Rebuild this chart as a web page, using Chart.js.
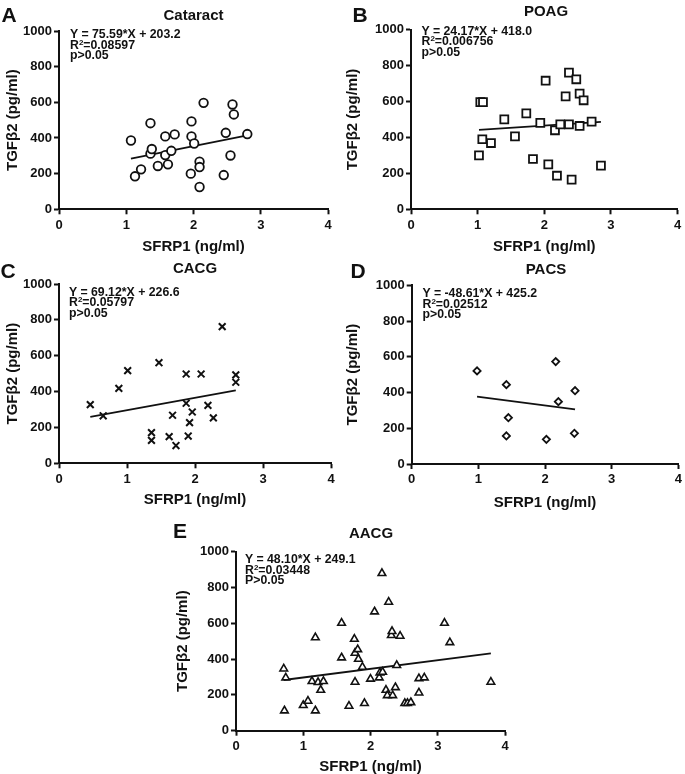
<!DOCTYPE html>
<html><head><meta charset="utf-8">
<script src="https://cdn.jsdelivr.net/npm/chart.js@4/dist/chart.umd.min.js"></script>
<style>
html,body{margin:0;padding:0;background:#fff;}
#wrap{position:relative;width:685px;height:774px;overflow:hidden;font-family:"Liberation Sans",Arial,sans-serif;color:#111;}
canvas{position:absolute;}
.lbl{position:absolute;transform:translate(-50%,-50%);font-weight:bold;line-height:1;white-space:nowrap;}
.letter{font-size:21px;}
.title{font-size:15px;}
.ann{position:absolute;font-weight:bold;font-size:12.3px;line-height:10.5px;white-space:nowrap;}
.ann .sp{font-size:8px;vertical-align:4px;line-height:0;}
</style></head>
<body><div id="wrap">
<canvas id="cA"></canvas><canvas id="cB"></canvas><canvas id="cC"></canvas><canvas id="cD"></canvas><canvas id="cE"></canvas>
</div>
<script>
// ---------- data ----------
const xTicks = [0, 1, 2, 3, 4];
const yTicks = [0, 200, 400, 600, 800, 1000];
const xTitle = "SFRP1 (ng/ml)";
const yTitle = "TGFβ2 (pg/ml)";

const cataractX = [1.07,1.13,1.22,1.36,1.36,1.38,1.47,1.58,1.58,1.62,1.67,1.72,1.97,1.97,2.01,1.96,2.09,2.09,2.09,2.15,2.48,2.45,2.55,2.58,2.60,2.80];
const cataractY = [386,185,224,483,312,338,243,409,304,252,328,420,493,409,369,200,267,237,125,597,429,192,302,588,532,422];

const poagX = [1.02,1.04,1.08,1.07,1.20,1.40,1.56,1.73,1.83,1.94,2.02,2.06,2.16,2.19,2.24,2.32,2.37,2.37,2.41,2.48,2.53,2.53,2.59,2.71,2.85];
const poagY = [300,597,597,390,369,501,406,534,280,481,716,250,440,187,473,629,761,473,165,724,464,644,607,488,243];

const cacgX = [0.46,0.65,0.88,1.01,1.36,1.36,1.47,1.62,1.67,1.72,1.87,1.87,1.90,1.92,1.96,2.09,2.19,2.27,2.40,2.60,2.60];
const cacgY = [327,265,418,517,171,128,561,149,268,99,498,335,152,227,286,498,323,253,762,493,452];

const pacsX = [0.98,1.42,1.42,1.45,2.02,2.16,2.20,2.45,2.44];
const pacsY = [521,444,157,259,138,573,349,410,172];

const aacgX = [0.71,0.74,0.72,1.00,1.07,1.13,1.18,1.18,1.22,1.26,1.30,1.57,1.57,1.68,1.76,1.77,1.77,1.81,1.82,1.88,1.91,2.00,2.06,2.13,2.14,2.18,2.17,2.23,2.27,2.25,2.31,2.32,2.33,2.37,2.39,2.44,2.51,2.55,2.60,2.72,2.72,2.80,3.10,3.18,3.79];
const aacgY = [346,296,112,142,166,276,112,520,270,227,276,601,408,138,512,434,272,454,400,356,153,289,665,296,324,328,879,227,719,197,533,555,197,242,365,529,153,153,158,212,292,296,601,493,272];

const slopes = [75.59, 24.17, 69.12, -48.61, 48.10];
const intercepts = [203.2, 418.0, 226.6, 425.2, 249.1];
const titles = ["Cataract", "POAG", "CACG", "PACS", "AACG"];
const letters = ["A", "B", "C", "D", "E"];
const eqTexts = ["Y = 75.59*X + 203.2", "Y = 24.17*X + 418.0", "Y = 69.12*X + 226.6", "Y = -48.61*X + 425.2", "Y = 48.10*X + 249.1"];
const r2Texts = ["0.08597", "0.006756", "0.05797", "0.02512", "0.03448"];
const pTexts = ["p>0.05", "p>0.05", "p>0.05", "p>0.05", "P>0.05"];

// ---------- layout ----------
const panels = [
  {id:'cA', xs:cataractX, ys:cataractY, style:'circle',   r:4.3, bw:1.8, L:0,   T:0,   W:340, H:260, cl:59,   cr:328, ct:31,   cb:209.3, xt:246.7, letter:[9,14],   title:[193.5,14], ann:[70,29]},
  {id:'cB', xs:poagX,     ys:poagY,     style:'rect',     r:5.6, bw:1.8, L:340, T:0,   W:345, H:260, cl:71,   cr:340.7, ct:29.7, cb:209.3, xt:246.7, letter:[360,14], title:[546,10],   ann:[421.5,25.5]},
  {id:'cC', xs:cacgX,     ys:cacgY,     style:'crossRot', r:4.8, bw:2,   L:0,   T:260, W:340, H:260, cl:59,   cr:331, ct:24,   cb:203.3, xt:240,   letter:[8,270],  title:[195,267],  ann:[69,286.5]},
  {id:'cD', xs:pacsX,     ys:pacsY,     style:'rectRot',  r:3.6, bw:1.8, L:340, T:260, W:345, H:260, cl:71.7, cr:340, ct:25.3, cb:204,   xt:243,   letter:[358,270],title:[546,268],  ann:[422.5,288]},
  {id:'cE', xs:aacgX,     ys:aacgY,     style:'triangle', r:4.4, bw:1.6, L:170, T:510, W:360, H:264, cl:66,   cr:335, ct:41.7, cb:220.7, xt:256.7, letter:[180,530],title:[371,532],  ann:[245,554]}
];

const wrap = document.getElementById('wrap');
function addDiv(cls, x, y, html){
  const d = document.createElement('div');
  d.className = cls; d.style.left = x + 'px'; d.style.top = y + 'px'; d.innerHTML = html;
  wrap.appendChild(d);
}

const FONT = "'Liberation Sans', Arial, sans-serif";

panels.forEach((p, i) => {
  const cv = document.getElementById(p.id);
  cv.style.left = p.L + 'px'; cv.style.top = p.T + 'px';
  cv.style.width = p.W + 'px'; cv.style.height = p.H + 'px';
  cv.width = p.W; cv.height = p.H;

  addDiv('lbl letter', p.letter[0], p.letter[1], letters[i]);
  addDiv('lbl title', p.title[0], p.title[1], titles[i]);
  addDiv('ann', p.ann[0], p.ann[1], eqTexts[i] + '<br>R<span class="sp">2</span>=' + r2Texts[i] + '<br>' + pTexts[i]);

  const pts = p.xs.map((x, k) => ({x: x, y: p.ys[k]}));
  const xmin = Math.min(...p.xs), xmax = Math.max(...p.xs);
  const line = [xmin, xmax].map(x => ({x: x, y: slopes[i] * x + intercepts[i]}));

  const tickFont = {family: FONT, size: 13, weight: 'bold'};
  const titleFont = {family: FONT, size: 15, weight: 'bold', lineHeight: 1};

  new Chart(cv, {
    type: 'scatter',
    data: {datasets: [
      {data: pts, pointStyle: p.style, pointRadius: p.r, pointHoverRadius: p.r, borderColor: '#111', backgroundColor: '#fff', pointBorderWidth: p.bw, borderWidth: p.bw},
      {type: 'line', data: line, showLine: true, pointRadius: 0, borderColor: '#111', borderWidth: 1.8, fill: false}
    ]},
    options: {
      responsive: false, animation: false, devicePixelRatio: 1,
      plugins: {legend: {display: false}, tooltip: {enabled: false}, title: {display: false}},
      layout: {padding: {left: 0, top: p.ct, right: p.W - p.cr, bottom: 0}},
      scales: {
        x: {
          type: 'linear', min: 0, max: 4,
          afterBuildTicks: s => { s.ticks = xTicks.map(v => ({value: v})); },
          afterFit: s => { s.height = p.H - p.cb; },
          border: {display: true, color: '#111', width: 2},
          grid: {display: true, drawOnChartArea: false, drawTicks: true, tickLength: 5, tickColor: '#111', tickWidth: 2},
          ticks: {color: '#111', font: tickFont, padding: 3, maxRotation: 0, callback: v => String(v)},
          title: {display: true, text: xTitle, color: '#111', font: titleFont, padding: {top: 0, bottom: Math.max(0, p.H - p.xt - 7.5)}}
        },
        y: {
          type: 'linear', min: 0, max: 1000,
          afterBuildTicks: s => { s.ticks = yTicks.map(v => ({value: v})); },
          afterFit: s => { s.width = p.cl; },
          border: {display: true, color: '#111', width: 2},
          grid: {display: true, drawOnChartArea: false, drawTicks: true, tickLength: 5, tickColor: '#111', tickWidth: 2},
          ticks: {color: '#111', font: tickFont, padding: 2, callback: v => String(v)},
          title: {display: true, text: yTitle, color: '#111', font: titleFont, padding: {top: 5, bottom: 0}}
        }
      }
    }
  });
});
</script>
</body></html>
